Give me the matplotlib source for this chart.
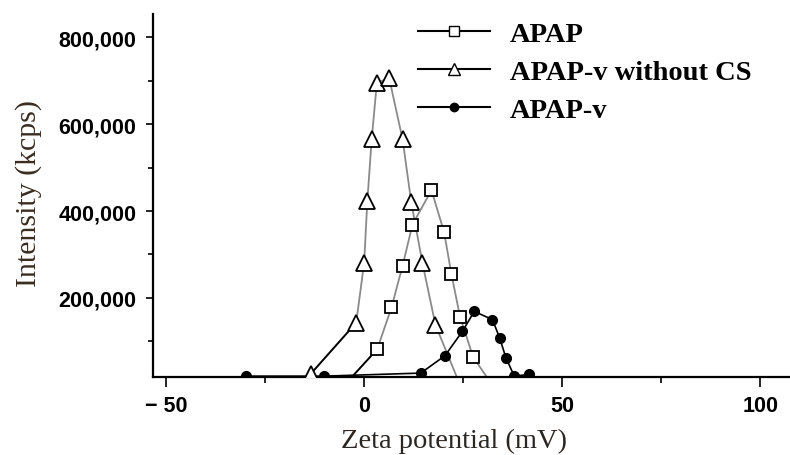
import numpy as np
from matplotlib import pyplot as plt
from matplotlib.lines import Line2D
from matplotlib.ticker import FuncFormatter, MultipleLocator

# APAP (open squares)
apap_x = [-2.9, 3.3, 6.9, 9.7, 12.2, 17.0, 20.2, 22.0, 24.2, 27.5, 30.8]
apap_y = [20000, 82000, 178000, 274000, 369000, 448000, 351000, 256000, 157000, 64000, 20000]
apap_marked = [False, True, True, True, True, True, True, True, True, True, False]

# APAP-v without CS (open triangles)
nocs_x = [-13.5, -2.0, 0.0, 0.8, 1.9, 3.2, 6.3, 9.7, 11.9, 14.7, 18.0, 23.3]
nocs_y = [25000, 143000, 281000, 422000, 565000, 694000, 707000, 565000, 420000, 281000, 138000, 20000]
nocs_marked = [True] * 11 + [False]

# APAP-v (filled circles)
apapv_x = [-29.9, -10.1, 14.3, 20.4, 24.8, 27.8, 32.4, 34.2, 35.8, 37.9, 41.7]
apapv_y = [20000, 20000, 27000, 67000, 123000, 169000, 150000, 108000, 62000, 20000, 24000]

labels = ["APAP", "APAP-v without CS", "APAP-v"]

fig = plt.figure(figsize=(7.9, 4.56), dpi=100)
ax = fig.add_axes([153 / 790, 1 - 378 / 456, 1 - 153 / 790, (378 - 15) / 456])

grey = "#8a8a8a"
ax.plot(nocs_x, nocs_y, color=grey, lw=1.3, zorder=2)
ax.plot(nocs_x[:2], nocs_y[:2], color="black", lw=1.3, zorder=2)
mx = [x for x, m in zip(nocs_x, nocs_marked) if m]
my = [y for y, m in zip(nocs_y, nocs_marked) if m]
ax.plot(mx, my, ls="none", marker="^", ms=11.5, mfc="white", mec="black", mew=1.3, zorder=4)

ax.plot(apap_x, apap_y, color=grey, lw=1.3, zorder=2)
ax.plot(apap_x[:2], apap_y[:2], color="black", lw=1.3, zorder=2)
mx = [x for x, m in zip(apap_x, apap_marked) if m]
my = [y for y, m in zip(apap_y, apap_marked) if m]
ax.plot(mx, my, ls="none", marker="s", ms=9, mfc="white", mec="black", mew=1.3, zorder=4)

ax.plot(apapv_x, apapv_y, color="black", lw=1.2, marker="o", ms=7,
        mfc="black", mec="black", zorder=3)

ax.set_xlim(-53.3, 107.5)
ax.set_ylim(18000, 853600)

for s in ["top", "right"]:
    ax.spines[s].set_visible(False)
ax.spines["left"].set_linewidth(1.6)
ax.spines["bottom"].set_linewidth(1.6)

ax.xaxis.set_major_locator(MultipleLocator(50))
ax.xaxis.set_minor_locator(MultipleLocator(25))
ax.yaxis.set_major_locator(MultipleLocator(200000))
ax.yaxis.set_minor_locator(MultipleLocator(100000))
ax.yaxis.set_major_formatter(FuncFormatter(lambda v, p: f"{int(v):,}"))
ax.xaxis.set_major_formatter(FuncFormatter(lambda v, p: f"\u2212 {int(-v)}" if v < 0 else f"{int(v)}"))
ax.tick_params(axis="x", which="major", length=7, width=1.2, pad=6)
ax.tick_params(axis="x", which="minor", length=4, width=1.2)
ax.tick_params(axis="y", which="major", length=5, width=1.2, pad=7)
ax.tick_params(axis="y", which="minor", length=3.5, width=1.2)
for lab in ax.get_xticklabels() + ax.get_yticklabels():
    lab.set_fontfamily("Liberation Sans")
    lab.set_fontweight("bold")
    lab.set_fontsize(15.5)

ax.set_xlabel("Zeta potential (mV)", fontfamily="Liberation Serif", fontsize=20.5,
              color="#2b2622", va="baseline")
ax.xaxis.set_label_coords(0.4725, -(448 - 378) / 363)
ax.set_ylabel("Intensity (kcps)", fontfamily="Liberation Serif", fontsize=21.5,
              color="#3b2c20")
ax.yaxis.set_label_coords(-0.174, 0.507)

handles = [
    Line2D([], [], color="black", lw=1.5, marker="s", ms=7, mfc="white", mec="black"),
    Line2D([], [], color="black", lw=1.5, marker="^", ms=8, mfc="white", mec="black"),
    Line2D([], [], color="black", lw=1.5, marker="o", ms=6, mfc="black", mec="black"),
]
fig.legend(handles, labels, loc="upper left", bbox_to_anchor=(418 / 790, 1 - 22 / 456),
           frameon=False, borderpad=0, borderaxespad=0, handlelength=2.53,
           handletextpad=0.7, labelspacing=0.42,
           prop={"family": "Liberation Serif", "weight": "bold", "size": 20.5})

fig.savefig("out.png", dpi=100)
